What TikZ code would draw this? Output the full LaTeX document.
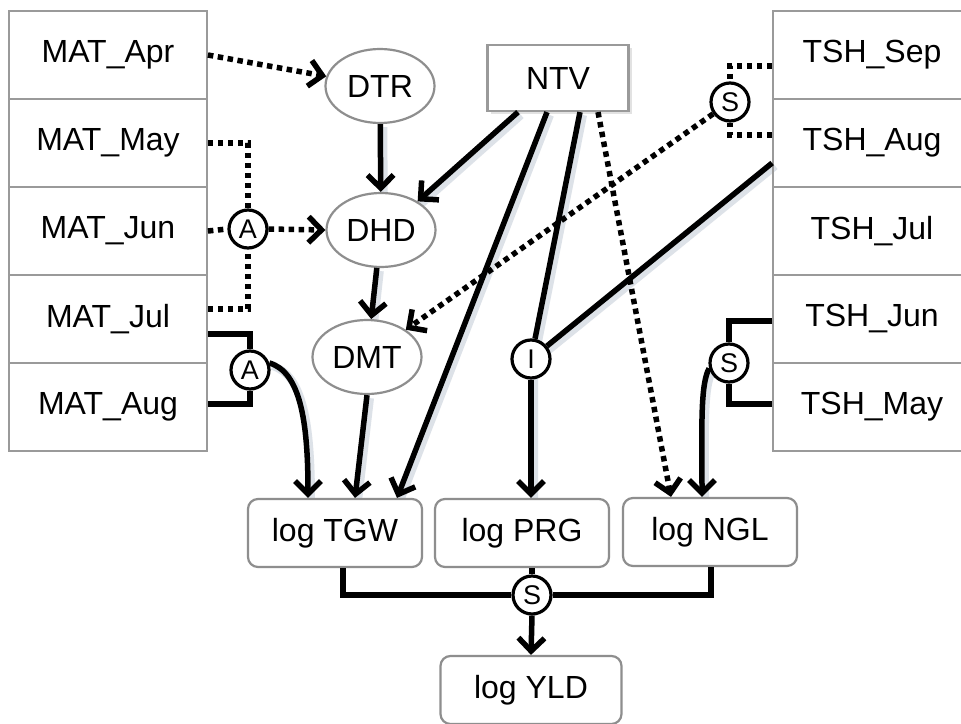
\documentclass[tikz,border=0pt]{standalone}
\usepackage{fontspec}
\setmainfont{Liberation Sans}
\usetikzlibrary{arrows.meta,shapes.geometric,calc,shadows}
\definecolor{boxgray}{HTML}{9A9A9A}
\definecolor{ellgray}{HTML}{8E8E8E}
\definecolor{shadowc}{HTML}{DDE2E8}
\pgfdeclarelayer{bgzero}
\pgfdeclarelayer{bgshadow}
\pgfsetlayers{bgzero,bgshadow,main}
\begin{document}
\begin{tikzpicture}[x=1pt,y=-1pt,
  mbox/.style={draw=boxgray, line width=1.8pt, minimum width=198pt, minimum height=88pt, inner sep=0pt, font=\fontsize{32}{36}\selectfont},
  ell/.style={ellipse, draw=ellgray, line width=2.2pt, minimum width=109pt, minimum height=74pt, inner sep=0pt, fill=white, font=\fontsize{32}{36}\selectfont},
  rbox/.style={rounded corners=10pt, draw=ellgray, line width=2.2pt, minimum width=174pt, minimum height=68pt, inner sep=0pt, fill=white, font=\fontsize{32}{36}\selectfont},
  op/.style={circle, draw=black, line width=3.2pt, minimum size=38pt, inner sep=0pt, fill=white, font=\fontsize{27}{29}\selectfont},
  shad/.style={draw=shadowc, line width=8pt, transform canvas={shift={(3pt,-3pt)}}},
  conn/.style={line width=5.5pt},
  dotconn/.style={line width=5.5pt, dash pattern=on 5.5pt off 4.5pt},
  arr/.style={-{Straight Barb[length=13pt,width=26pt]}}
]
\useasboundingbox (0,0) rectangle (961,723);
\clip (0,0) rectangle (961,723);
\begin{pgfonlayer}{bgzero}
\fill[white] (0,0) rectangle (961,723);
\end{pgfonlayer}

% left column
\node[mbox] (mapr) at (108,55)  {MAT\_Apr};
\node[mbox] (mmay) at (108,143) {MAT\_May};
\node[mbox] (mjun) at (108,231) {MAT\_Jun};
\node[mbox] (mjul) at (108,319) {MAT\_Jul};
\node[mbox] (maug) at (108,407) {MAT\_Aug};
% right column
\node[mbox] (tsep) at (872,55)  {TSH\_Sep};
\node[mbox] (taug) at (872,143) {TSH\_Aug};
\node[mbox] (tjul) at (872,231) {TSH\_Jul};
\node[mbox] (tjun) at (872,319) {TSH\_Jun};
\node[mbox] (tmay) at (872,407) {TSH\_May};

% ellipses
\node[ell] (dtr) at (380,86)  {DTR};
\node[ell] (dhd) at (381,230) {DHD};
\node[ell] (dmt) at (367,357) {DMT};

% NTV
\node[draw=boxgray, line width=2.2pt, fill=white, minimum width=141pt, minimum height=66pt, inner sep=0pt,
      drop shadow={shadow xshift=3pt, shadow yshift=-3pt, fill=gray!45},
      font=\fontsize{32}{36}\selectfont] (ntv) at (558,78) {NTV};

% bottom boxes
\node[rbox] (tgw) at (335,533) {log TGW};
\node[rbox] (prg) at (522,533) {log PRG};
\node[rbox] (ngl) at (710,532) {log NGL};
\node[rbox, minimum width=181pt] (yld) at (531,690) {log YLD};

% operator circles
\node[op] (a1) at (248,229) {A};
\node[op] (a2) at (250,370) {A};
\node[op] (s1) at (730,102) {S};
\node[op] (s2) at (729,363) {S};
\node[op] (ii) at (531,359) {I};
\node[op] (s3) at (532,595) {S};

% soft shadows of the free-running connectors
\begin{pgfonlayer}{bgshadow}
\draw[shad] ($(ntv.south)+(-40,0)$) -- (dhd.38);
\draw[shad] ($(ntv.south)+(-11,0)$) -- ($(tgw.north)+(62,0)$);
\draw[shad] ($(ntv.south)+(22,0)$) -- (ii.center) -- (ii.center |- prg.north);
\draw[shad] ($(taug.west)+(0,20)$) -- (ii.center);
\draw[shad] (dmt.south) -- ($(tgw.north)+(20,0)$);
\draw[shad] (a2.20) .. controls (300,372) and (308,420) .. ($(tgw.north)+(-27,0)$);
\draw[shad] (dtr) -- (dhd);
\draw[shad] (dhd) -- (dmt);
\draw[shad] (s2.195) .. controls (700,385) and (702,430) .. ($(ngl.north)+(-8,0)$);
\end{pgfonlayer}

% MAT connectors
\draw[dotconn, arr] (mapr.east) -- (dtr);
\draw[dotconn] (mmay.east) -| (a1.north);
\draw[dotconn] ($(mjul.east)+(0,-10)$) -| (a1.south);
\draw[dotconn] (mjun.east) -- (a1.west);
\draw[dotconn, arr] (a1.east) -- (dhd.west);
\draw[conn] ($(mjul.east)+(0,15)$) -| (a2.north);
\draw[conn] ($(maug.east)+(0,-3)$) -| (a2.south);
\draw[conn, arr] (a2.20) .. controls (300,372) and (308,420) .. ($(tgw.north)+(-27,0)$);

% chain
\draw[conn, arr] (dtr) -- (dhd);
\draw[conn, arr] (dhd) -- (dmt);
\draw[conn, arr] (dmt.south) -- ($(tgw.north)+(20,0)$);

% NTV connectors
\draw[conn, arr] ($(ntv.south)+(-40,0)$) -- (dhd.38);
\draw[conn, arr] ($(ntv.south)+(-11,0)$) -- ($(tgw.north)+(62,0)$);
\draw[conn] ($(ntv.south)+(22,0)$) -- (ii);
\draw[dotconn, arr] ($(ntv.south)+(40,0)$) -- ($(ngl.north)+(-39,0)$);

% TSH connectors
\draw[dotconn] ($(tsep.west)+(0,11)$) -| (s1.north);
\draw[dotconn] ($(taug.west)+(0,-8)$) -| (s1.south);
\draw[dotconn, arr] (s1) -- (dmt);
\draw[conn] ($(taug.west)+(0,20)$) -- (ii);
\draw[conn, arr] (ii.south) -- (ii.south |- prg.north);
\draw[conn] ($(tjun.west)+(0,2)$) -| (s2.north);
\draw[conn] ($(tmay.west)+(0,-3)$) -| (s2.south);
\draw[conn, arr] (s2.195) .. controls (700,385) and (702,430) .. ($(ngl.north)+(-8,0)$);

% bottom
\draw[conn] ($(tgw.south)+(8,0)$) |- (s3.west);
\draw[conn] ($(ngl.south)+(1,0)$) |- (s3.east);
\draw[conn] (s3.north |- prg.south) -- (s3.north);
\draw[conn, arr] (s3.south) -- (yld.north);
\end{tikzpicture}
\end{document}
